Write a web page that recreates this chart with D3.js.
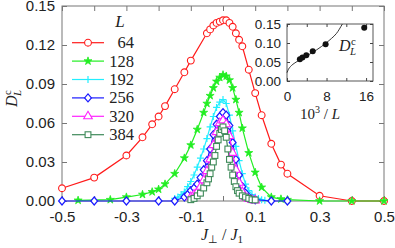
<!DOCTYPE html>
<html lang="en">
<head>
<meta charset="UTF-8">
<title>D_L^c vs J_perp/J1</title>
<style>
  body { margin: 0; background: #fff; }
  svg text { fill: #222; }
  .tick text { font-family: "Liberation Sans", Arial, sans-serif; }
  .serif { font-family: "Liberation Serif", "Times New Roman", serif; }
</style>
</head>
<body>
<svg id="chart" width="395" height="248"></svg>
<script src="https://cdn.jsdelivr.net/npm/d3@7"></script>
<script>
// ---- data ----
const sizes = ["64", "128", "192", "256", "320", "384"];
const colors = ["#ff1a1a", "#22ee22", "#22eeff", "#1a1aff", "#ff22ff", "#3f8a5a"];

const x64 = [-0.5,-0.4,-0.3,-0.25,-0.22,-0.2,-0.18,-0.15,-0.12,-0.1,-0.05,-0.04,-0.03,-0.02,-0.01,0,0.01,0.02,0.03,0.04,0.05,0.06,0.08,0.1,0.12,0.15,0.18,0.2,0.3,0.4,0.5];
const y64 = [0.0098,0.018,0.035,0.049,0.059,0.065,0.073,0.086,0.099,0.108,0.129,0.132,0.135,0.137,0.138,0.139,0.139,0.137,0.134,0.129,0.124,0.119,0.101,0.083,0.066,0.044,0.028,0.021,0.004,0.0,0.0];

const x128 = [-0.45,-0.35,-0.3,-0.25,-0.22,-0.2,-0.18,-0.15,-0.12,-0.1,-0.08,-0.06,-0.05,-0.04,-0.03,-0.02,-0.01,0,0.01,0.02,0.03,0.04,0.05,0.06,0.08,0.1,0.12,0.15,0.18,0.2,0.3,0.4,0.5];
const y128 = [0.0005,0.001,0.003,0.005,0.007,0.009,0.013,0.021,0.033,0.043,0.055,0.068,0.075,0.081,0.087,0.092,0.095,0.097,0.096,0.093,0.087,0.078,0.068,0.056,0.037,0.022,0.0105,0.003,0.0015,0.001,0,0,0];

const x192 = [-0.15,-0.14,-0.13,-0.12,-0.11,-0.1,-0.09,-0.08,-0.07,-0.06,-0.05,-0.04,-0.03,-0.02,-0.01,0,0.01,0.02,0.03,0.04,0.05,0.06,0.07,0.08,0.09,0.1,0.11,0.12,0.13,0.15];
const y192 = [0.002,0.003,0.005,0.007,0.011,0.015,0.020,0.026,0.033,0.040,0.048,0.057,0.065,0.072,0.076,0.078,0.075,0.066,0.054,0.042,0.031,0.021,0.013,0.008,0.005,0.003,0.002,0.001,0.0005,0];

const x256 = [-0.5,-0.4,-0.3,-0.2,-0.15,-0.12,-0.11,-0.1,-0.09,-0.08,-0.07,-0.06,-0.05,-0.04,-0.03,-0.02,-0.01,0,0.01,0.02,0.03,0.04,0.05,0.06,0.07,0.08,0.09,0.1,0.15,0.2];
const y256 = [0,0,0,0,0,0.003,0.005,0.008,0.010,0.013,0.018,0.024,0.031,0.040,0.051,0.059,0.065,0.068,0.066,0.058,0.045,0.032,0.020,0.011,0.006,0.003,0.0015,0.001,0,0];

const x320 = [-0.1,-0.09,-0.08,-0.07,-0.06,-0.05,-0.04,-0.03,-0.02,-0.01,0,0.01,0.02,0.03,0.04,0.05,0.06,0.07,0.08,0.09,0.1];
const y320 = [0.003,0.005,0.007,0.011,0.016,0.023,0.032,0.043,0.053,0.060,0.062,0.059,0.050,0.037,0.024,0.014,0.007,0.003,0.0015,0.0008,0.0005];

const x384 = [-0.1,-0.09,-0.08,-0.07,-0.06,-0.05,-0.045,-0.04,-0.035,-0.03,-0.025,-0.02,-0.015,-0.01,-0.005,0,0.005,0.01,0.015,0.02,0.025,0.03,0.035,0.04,0.045,0.05,0.06,0.07,0.08,0.09,0.1];
const y384 = [0.001,0.002,0.004,0.006,0.010,0.014,0.017,0.021,0.026,0.030,0.035,0.042,0.047,0.052,0.055,0.057,0.054,0.049,0.040,0.032,0.026,0.020,0.015,0.011,0.008,0.006,0.004,0.003,0.002,0.001,0.0008];

const xTicks = [-0.5,-0.4,-0.3,-0.2,-0.1,0,0.1,0.2,0.3,0.4,0.5];
const xTickLabels = {"-0.5":"-0.5","-0.3":"-0.3","-0.1":"-0.1","0.1":"0.1","0.3":"0.3","0.5":"0.5"};
const yTicks = [0,0.03,0.06,0.09,0.12,0.15];

// inset: peak height vs 10^3/L
const insetX = [2.604, 3.125, 3.906, 5.208, 7.8125, 15.625];
const insetY = [0.057, 0.062, 0.068, 0.078, 0.097, 0.140];
const fitX = [0, 0.3, 0.7, 1.2, 2, 3, 4, 5, 6, 7, 8, 9, 10, 11.2];
const fitY = [0.022, 0.031, 0.038, 0.044, 0.051, 0.059, 0.066, 0.074, 0.082, 0.091, 0.101, 0.112, 0.125, 0.150];
const insetXTicks = [0, 4, 8, 12, 16];
const insetXLabels = [0, 8, 16];
const insetYTicks = [0, 0.05, 0.10, 0.15];

const seriesX = [x64, x128, x192, x256, x320, x384];
const seriesY = [y64, y128, y192, y256, y320, y384];

// ---- drawing ----
const svg = d3.select("#chart");
const frame = "#777";

const x = d3.scaleLinear().domain([-0.5, 0.5]).range([62, 384]);
const y = d3.scaleLinear().domain([0, 0.15]).range([201, 6]);

// marker shapes
const plusPath = s => `M${-s},0H${s}M0,${-s}V${s}`;
const markers = [
  g => g.append("circle").attr("r", 3.4).attr("fill", "#fff").attr("stroke", colors[0]).attr("stroke-width", 1.1),
  g => g.append("path").attr("d", d3.symbol(d3.symbolStar, 20)()).attr("fill", colors[1]).attr("stroke", colors[1]).attr("stroke-width", 0.8),
  g => g.append("path").attr("d", plusPath(3.5)).attr("fill", "none").attr("stroke", colors[2]).attr("stroke-width", 1.2),
  g => g.append("path").attr("d", "M0,-4L3.4,0L0,4L-3.4,0Z").attr("fill", "#fff").attr("stroke", colors[3]).attr("stroke-width", 1.2),
  g => g.append("path").attr("d", d3.symbol(d3.symbolTriangle, 32)()).attr("fill", "#fff").attr("stroke", colors[4]).attr("stroke-width", 1.1),
  g => g.append("rect").attr("x", -2.9).attr("y", -2.9).attr("width", 5.8).attr("height", 5.8).attr("fill", "#fff").attr("stroke", colors[5]).attr("stroke-width", 1.1)
];

// frame + axes
svg.append("rect").attr("x", 62).attr("y", 6).attr("width", 322).attr("height", 195)
  .attr("fill", "none").attr("stroke", frame).attr("stroke-width", 1);

const styleAxis = g => {
  g.select(".domain").remove();
  g.selectAll(".tick line").attr("stroke", frame);
  g.selectAll(".tick text").attr("font-size", 15).attr("fill", "#222");
};

svg.append("g").attr("transform", "translate(0,201)")
  .call(d3.axisBottom(x).tickValues(xTicks).tickSize(-5).tickPadding(10)
    .tickFormat(d => xTickLabels[String(+d.toFixed(1))] || ""))
  .call(styleAxis);
svg.append("g").attr("transform", "translate(0,6)")
  .call(d3.axisTop(x).tickValues(xTicks).tickSize(-5).tickFormat(""))
  .call(styleAxis);
svg.append("g").attr("transform", "translate(62,0)")
  .call(d3.axisLeft(y).tickValues(yTicks).tickSize(-5).tickPadding(7).tickFormat(d3.format(".2f")))
  .call(styleAxis);
svg.append("g").attr("transform", "translate(384,0)")
  .call(d3.axisRight(y).tickValues(yTicks).tickSize(-5).tickFormat(""))
  .call(styleAxis);

// series
const line = d3.line().x(d => x(d[0])).y(d => y(d[1]));
seriesX.forEach((xs, i) => {
  const pts = xs.map((v, j) => [v, seriesY[i][j]]);
  const g = svg.append("g");
  g.append("path").datum(pts).attr("d", line)
    .attr("fill", "none").attr("stroke", colors[i]).attr("stroke-width", 1.2);
  g.selectAll("g.m").data(pts).enter().append("g").attr("class", "m")
    .attr("transform", d => `translate(${x(d[0])},${y(d[1])})`)
    .each(function () { markers[i](d3.select(this)); });
});

// legend
const leg = svg.append("g");
leg.append("text").attr("class", "serif").attr("x", 120).attr("y", 27)
  .attr("text-anchor", "middle").attr("font-size", 17).attr("font-style", "italic").text("L");
sizes.forEach((s, i) => {
  const yy = 42.7 + i * 18.4;
  leg.append("line").attr("x1", 72).attr("x2", 104).attr("y1", yy).attr("y2", yy)
    .attr("stroke", colors[i]).attr("stroke-width", 1.2);
  const m = leg.append("g").attr("transform", `translate(88,${yy})`);
  markers[i](m);
  leg.append("text").attr("class", "serif").attr("x", 134).attr("y", yy + 5.5)
    .attr("text-anchor", "end").attr("font-size", 16.5).text(s);
});

// D_L^c as one text: D, superscript c, then L pulled back under it
function dLabel(g, size) {
  const t = g.append("text").attr("class", "serif").attr("font-size", size);
  t.append("tspan").attr("font-style", "italic").text("D");
  const c = t.append("tspan").attr("font-size", size * 0.68).attr("dx", 0.5).attr("dy", -size * 0.38).text("c");
  const cw = c.node().getComputedTextLength();
  t.append("tspan").attr("font-size", size * 0.68).attr("font-style", "italic")
    .attr("dx", -cw - 1).attr("dy", size * 0.6).text("L");
}
dLabel(svg.append("g").attr("transform", "translate(17,107) rotate(-90)"), 16);

// x label J_perp / J_1
const xl = svg.append("text").attr("class", "serif").attr("x", 222).attr("y", 240)
  .attr("text-anchor", "middle").attr("font-size", 16);
xl.append("tspan").attr("font-style", "italic").text("J");
xl.append("tspan").attr("font-size", 11).attr("dy", 3).text("\u22a5");
xl.append("tspan").attr("dy", -3).text(" / ");
xl.append("tspan").attr("font-style", "italic").text("J");
xl.append("tspan").attr("font-size", 11).attr("dy", 3).text("1");

// ---- inset ----
const ix = d3.scaleLinear().domain([0, 17.4]).range([287, 373]);
const iy = d3.scaleLinear().domain([0, 0.15]).range([81, 24]);
svg.append("rect").attr("x", 287).attr("y", 24).attr("width", 86).attr("height", 57)
  .attr("fill", "#fff").attr("stroke", "#444").attr("stroke-width", 0.9);

const styleInset = g => {
  g.select(".domain").remove();
  g.selectAll(".tick line").attr("stroke", "#444");
  g.selectAll(".tick text").attr("font-size", 13.5).attr("fill", "#222");
};
svg.append("g").attr("transform", "translate(0,81)")
  .call(d3.axisBottom(ix).tickValues(insetXTicks).tickSize(-3).tickPadding(10)
    .tickFormat(d => insetXLabels.includes(d) ? d : ""))
  .call(styleInset);
svg.append("g").attr("transform", "translate(0,24)")
  .call(d3.axisTop(ix).tickValues(insetXTicks).tickSize(-3).tickFormat(""))
  .call(styleInset);
svg.append("g").attr("transform", "translate(287,0)")
  .call(d3.axisLeft(iy).tickValues(insetYTicks).tickSize(-3).tickPadding(6).tickFormat(d3.format(".2f")))
  .call(styleInset);
svg.append("g").attr("transform", "translate(373,0)")
  .call(d3.axisRight(iy).tickValues(insetYTicks).tickSize(-3).tickFormat(""))
  .call(styleInset);

const fit = fitX.map((v, j) => [v, fitY[j]]);
svg.append("path").datum(fit)
  .attr("d", d3.line().curve(d3.curveMonotoneX).x(d => ix(d[0])).y(d => iy(d[1])))
  .attr("fill", "none").attr("stroke", "#222").attr("stroke-width", 0.9);
svg.append("g").selectAll("circle").data(insetX).enter().append("circle")
  .attr("cx", d => ix(d)).attr("cy", (d, j) => iy(insetY[j])).attr("r", 3).attr("fill", "#111");

dLabel(svg.append("g").attr("transform", "translate(339,51)"), 16);

const il = svg.append("text").attr("class", "serif").attr("x", 320).attr("y", 119)
  .attr("text-anchor", "middle").attr("font-size", 15);
il.append("tspan").text("10");
il.append("tspan").attr("font-size", 10).attr("dy", -6).text("3");
il.append("tspan").attr("dy", 6).text(" / ");
il.append("tspan").attr("font-style", "italic").text("L");
</script>
</body>
</html>
